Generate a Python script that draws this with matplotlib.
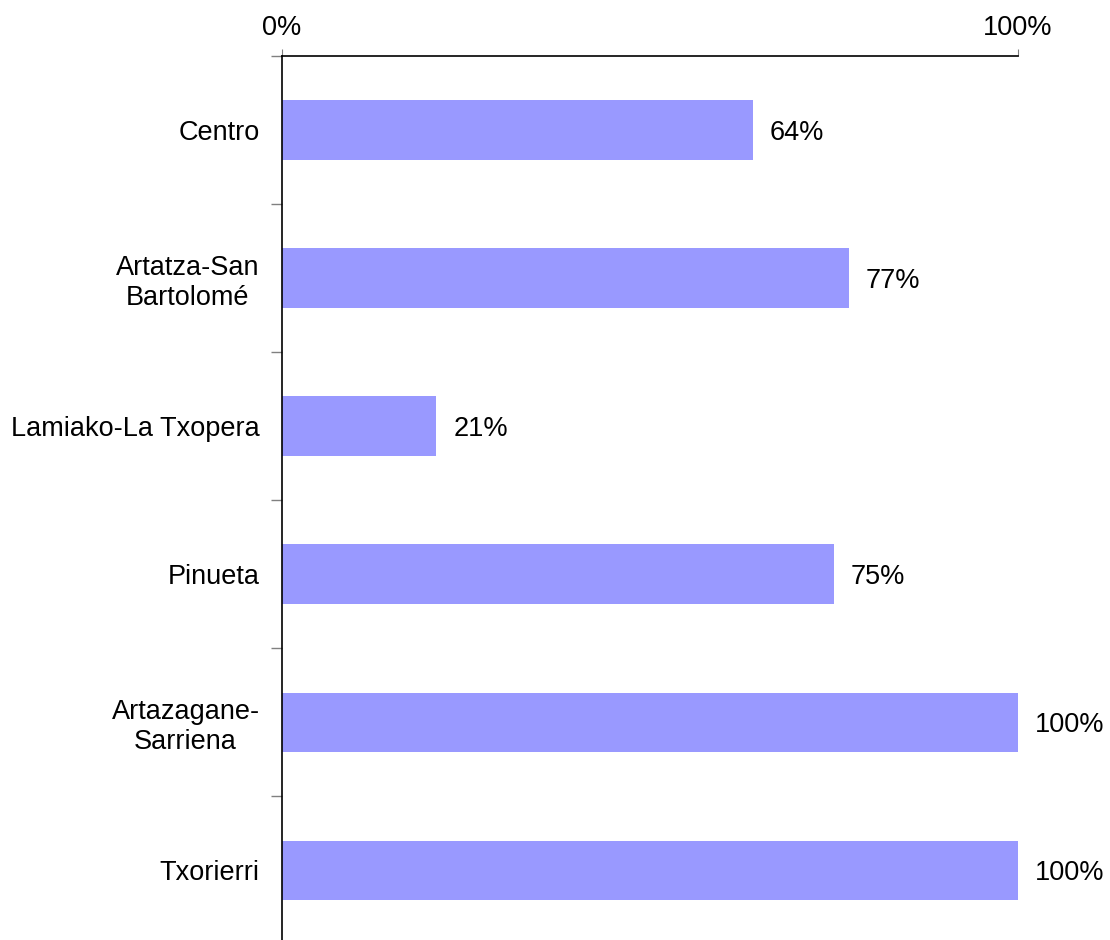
import matplotlib as mpl
mpl.use('Agg')
import matplotlib.pyplot as plt
from matplotlib.ticker import FixedLocator

plt.rcParams['font.family'] = ['Liberation Sans', 'DejaVu Sans']

categories = ['Centro', 'Artatza-San\nBartolomé', 'Lamiako-La Txopera',
              'Pinueta', 'Artazagane-\nSarriena', 'Txorierri']
values = [64, 77, 21, 75, 100, 100]
x_ticks = [0, 100]
x_tick_labels = ['0%', '100%']

BAR_COLOR = '#9999FF'
FS = 19.5

fig = plt.figure(figsize=(11.1, 9.4), dpi=100)
ax = fig.add_axes([0.254, -0.0045, 0.663, 0.945])

pos = list(range(len(categories)))
ax.barh(pos, values, height=0.4, color=BAR_COLOR, zorder=2)
for p, v in zip(pos, values):
    ax.text(v + 2.3, p, '%d%%' % v, va='center_baseline', ha='left', fontsize=FS)

ax.set_xlim(0, 100)
ax.set_ylim(len(categories) - 0.5, -0.5)
ax.xaxis.tick_top()
ax.set_xticks(x_ticks)
ax.set_xticklabels(x_tick_labels, fontsize=FS)
ax.tick_params(axis='x', length=5, color='#808080', pad=6)

ax.set_yticks(pos)
ax.set_yticklabels(categories, fontsize=FS, multialignment='center')
ax.tick_params(axis='y', which='major', length=0, pad=16)
ax.yaxis.set_minor_locator(FixedLocator([i + 0.5 for i in pos[:-1]] + [-0.5]))
ax.tick_params(axis='y', which='minor', length=8, color='#808080', width=1)

ax.spines['right'].set_visible(False)
ax.spines['bottom'].set_visible(False)
ax.spines['top'].set_linewidth(1.2)
ax.spines['left'].set_linewidth(1.2)

fig.savefig('out.png', dpi=100)
